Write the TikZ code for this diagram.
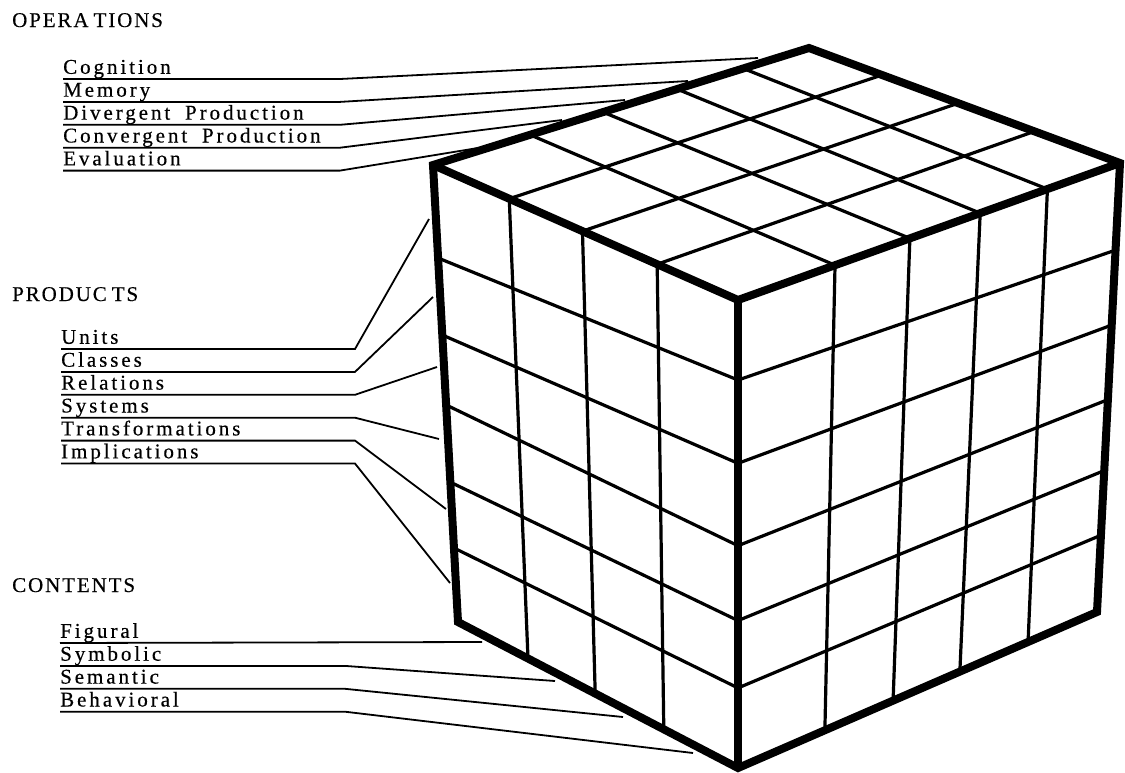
\documentclass[tikz,border=0pt]{standalone}
\usepackage{fontspec}
\setmainfont{Liberation Serif}
\newfontfamily\headfont[LetterSpace=9,FakeBold=0.4]{Liberation Serif}
\newfontfamily\itemfont[LetterSpace=14,WordSpace=1.8,FakeBold=0.4]{Liberation Serif}
\usetikzlibrary{positioning,calc}

\begin{document}
\begin{tikzpicture}[
    x=1pt, y=-1pt,
    node distance=2.5pt,
    head/.style={anchor=base west, inner sep=0pt, font=\headfont\fontsize{21}{24}\selectfont},
    item/.style={inner sep=0pt, text height=15pt, text depth=5pt, font=\itemfont\fontsize{21}{24}\selectfont},
    lead/.style={line width=1.8pt},
    rim/.style={line width=8pt, line join=miter},
    cell/.style={line width=3.2pt}
]
\useasboundingbox (0,0) rectangle (1125,772);

% cube corners
\coordinate (L) at (433,165);
\coordinate (B) at (809,48);
\coordinate (R) at (1120,163);
\coordinate (F) at (738,300);
\coordinate (LB) at (458,622);
\coordinate (FB) at (738,768);
\coordinate (RB) at (1097,612);

% grid of the three faces
\foreach \f in {0.25,0.49,0.735}
  \draw[cell] ($(L)!\f!(F)$) -- ($(LB)!\f!(FB)$);
\foreach \f/\g/\h in {0.2035/0.171/0.194,0.372/0.349/0.361,0.525/0.525/0.527,0.694/0.685/0.685,0.838/0.829/0.829}
  \draw[cell] ($(L)!\f!(LB)$) -- ($(F)!\g!(FB)$) -- ($(R)!\h!(RB)$);
\foreach \f/\g in {0.254/0.242,0.45/0.432,0.634/0.618,0.81/0.808}
  \draw[cell] ($(F)!\f!(R)$) -- ($(FB)!\g!(RB)$);
\foreach \f/\g in {0.258/0.254,0.452/0.45,0.649/0.634,0.825/0.81}
  \draw[cell] ($(L)!\f!(B)$) -- ($(F)!\g!(R)$);
\foreach \f/\g in {0.25/0.235,0.49/0.48,0.735/0.725}
  \draw[cell] ($(L)!\f!(F)$) -- ($(B)!\g!(R)$);

% outline
\draw[rim] (L) -- (B) -- (R) -- (RB) -- (FB) -- (LB) -- cycle;
\draw[rim] (L) -- (F) -- (R);
\draw[rim] (F) -- (FB);

% headings
\node[head] (ophead) at (12,27) {OPERA\kern5pt TIONS};
\node[head] (prhead) at (12,301) {PRODUC\kern5pt TS};
\node[head] (cthead) at (12,592) {CONTENTS};

% operations
\coordinate (opbend) at (340,0);
\coordinate (op1) at (758,58);
\coordinate (op2) at (688,81);
\coordinate (op3) at (625,100);
\coordinate (op4) at (562,120);
\coordinate (op5) at (478,148);
\node[item, anchor=south west] (cog) at (63,79) {Cognition};
\node[item, below=of cog.south west, anchor=north west] (mem) {Memory};
\node[item, below=of mem.south west, anchor=north west] (div) {Divergent Production};
\node[item, below=of div.south west, anchor=north west] (conv) {Convergent Production};
\node[item, below=of conv.south west, anchor=north west] (eval) {Evaluation};
\draw[lead] (cog.south west) -- (cog.south west -| opbend) -- (op1);
\draw[lead] (mem.south west) -- (mem.south west -| opbend) -- (op2);
\draw[lead] (div.south west) -- (div.south west -| opbend) -- (op3);
\draw[lead] (conv.south west) -- (conv.south west -| opbend) -- (op4);
\draw[lead] (eval.south west) -- (eval.south west -| opbend) -- (op5);

% products
\coordinate (prbend) at (355,0);
\coordinate (pr1) at (429,219);
\coordinate (pr2) at (433,297);
\coordinate (pr3) at (437,367);
\coordinate (pr4) at (439,439);
\coordinate (pr5) at (446,509);
\coordinate (pr6) at (450,583);
\node[item, anchor=south west] (units) at (61,349) {Units};
\node[item, below=of units.south west, anchor=north west] (classes) {Classes};
\node[item, below=of classes.south west, anchor=north west] (rel) {Relations};
\node[item, below=of rel.south west, anchor=north west] (sys) {Systems};
\node[item, below=of sys.south west, anchor=north west] (trans) {Transformations};
\node[item, below=of trans.south west, anchor=north west] (impl) {Implications};
\draw[lead] (units.south west) -- (units.south west -| prbend) -- (pr1);
\draw[lead] (classes.south west) -- (classes.south west -| prbend) -- (pr2);
\draw[lead] (rel.south west) -- (rel.south west -| prbend) -- (pr3);
\draw[lead] (sys.south west) -- (sys.south west -| prbend) -- (pr4);
\draw[lead] (trans.south west) -- (trans.south west -| prbend) -- (pr5);
\draw[lead] (impl.south west) -- (impl.south west -| prbend) -- (pr6);

% contents
\coordinate (ctbend) at (345,0);
\coordinate (ct1) at (482,642);
\coordinate (ct2) at (555,681);
\coordinate (ct3) at (623,717);
\coordinate (ct4) at (693,753);
\node[item, anchor=south west] (fig) at (60,643) {Figural};
\node[item, below=of fig.south west, anchor=north west] (sym) {Symbolic};
\node[item, below=of sym.south west, anchor=north west] (sem) {Semantic};
\node[item, below=of sem.south west, anchor=north west] (beh) {Behavioral};
\draw[lead] (fig.south west) -- (ct1);
\draw[lead] (sym.south west) -- (sym.south west -| ctbend) -- (ct2);
\draw[lead] (sem.south west) -- (sem.south west -| ctbend) -- (ct3);
\draw[lead] (beh.south west) -- (beh.south west -| ctbend) -- (ct4);
\end{tikzpicture}
\end{document}
